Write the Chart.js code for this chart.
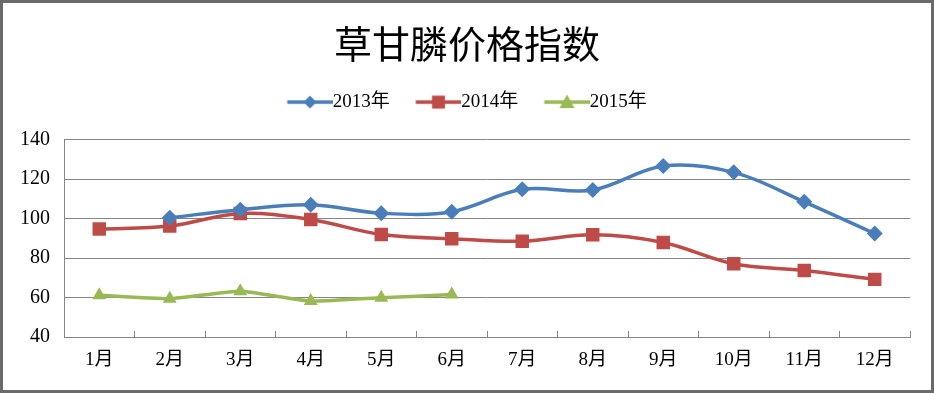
<!DOCTYPE html>
<html>
<head>
<meta charset="utf-8">
<script src="https://cdn.jsdelivr.net/npm/chart.js@4/dist/chart.umd.min.js"></script>
<style>
html,body{margin:0;padding:0;background:#fff;}
#wrap{width:934px;height:393px;box-sizing:border-box;border:3px solid #6a6a6a;background:#fff;position:relative;}
canvas{display:block;}
</style>
</head>
<body>
<div id="wrap"><canvas id="c" width="928" height="387"></canvas></div>
<script>
const titleText = '草甘膦价格指数';
const months = ['1月','2月','3月','4月','5月','6月','7月','8月','9月','10月','11月','12月'];
const seriesNames = ['2013年','2014年','2015年'];
const values2013 = [null, 100.4, 104.5, 107.0, 102.7, 103.5, 114.8, 114.5, 126.6, 123.4, 108.5, 92.4];
const values2014 = [94.7, 96.2, 102.6, 99.5, 91.9, 89.8, 88.5, 91.8, 87.9, 77.1, 73.7, 69.2];
const values2015 = [61.2, 59.4, 63.2, 58.2, 59.9, 61.5];
const yTicks = [40, 60, 80, 100, 120, 140];

const colors = ['#4A7EBB', '#BE4B48', '#98B954'];
const styles = ['rectRot', 'rect', 'triangle'];
const radii = [8, 9.5, 8];

const serif = '"Liberation Serif", "Times New Roman", "Noto Sans CJK SC", serif';

function legendIcon(i) {
  const boxW = 36, gap = 9.5;
  const W = Math.ceil(2 * (boxW / 2 + gap)), H = 20;
  const cv = document.createElement('canvas');
  cv.width = W; cv.height = H;
  const g = cv.getContext('2d');
  const x0 = W / 2 - boxW / 2, x1 = W;
  const cy = H / 2;
  g.strokeStyle = colors[i]; g.lineWidth = 3.5;
  g.beginPath(); g.moveTo(x0, cy); g.lineTo(x1, cy); g.stroke();
  const cx = (x0 + x1) / 2;
  g.fillStyle = colors[i];
  g.beginPath();
  if (i === 0) {
    const r = 6.5;
    g.moveTo(cx, cy - r); g.lineTo(cx + r, cy); g.lineTo(cx, cy + r); g.lineTo(cx - r, cy);
  } else if (i === 1) {
    const s = 6.5;
    g.rect(cx - s, cy - s, 2 * s, 2 * s);
  } else {
    const r = 7.5;
    g.moveTo(cx, cy - r); g.lineTo(cx + r, cy + r * 0.8); g.lineTo(cx - r, cy + r * 0.8);
  }
  g.closePath(); g.fill();
  return cv;
}
const icons = [legendIcon(0), legendIcon(1), legendIcon(2)];

function ds(label, data, i, tension) {
  return {
    label: label,
    data: data,
    borderColor: colors[i],
    backgroundColor: colors[i],
    borderWidth: 3.5,
    pointStyle: styles[i],
    pointRadius: radii[i],
    pointHoverRadius: radii[i],
    pointBorderWidth: 0,
    tension: tension,
    fill: false,
    yAxisID: 'y'
  };
}

const legendGap = {
  id: 'legendGap',
  beforeLayout(chart) {
    const lg = chart.legend;
    if (lg && !lg._gapPatched) {
      const orig = lg.fit;
      lg.fit = function() { orig.apply(this, arguments); this.height += 18; };
      lg._gapPatched = true;
    }
  }
};

new Chart(document.getElementById('c'), {
  type: 'line',
  data: {
    labels: months,
    datasets: [
      ds(seriesNames[0], values2013, 0, 0.35),
      ds(seriesNames[1], values2014, 1, 0.35),
      ds(seriesNames[2], values2015, 2, 0.15)
    ]
  },
  plugins: [legendGap],
  options: {
    responsive: false,
    animation: false,
    devicePixelRatio: 1,
    layout: { padding: 0 },
    plugins: {
      title: {
        display: true,
        text: titleText,
        color: '#000',
        font: { family: '"Noto Sans CJK SC", sans-serif', size: 38, weight: 'normal' },
        padding: { top: 18, bottom: 0 }
      },
      legend: {
        display: true,
        position: 'top',
        labels: {
          usePointStyle: true,
          pointStyleWidth: 36,
          color: '#000',
          font: { family: serif, size: 19 },
          padding: 26,
          generateLabels: function(chart) {
            return chart.data.datasets.map(function(d, i) {
              return {
                text: d.label,
                pointStyle: icons[i],
                fillStyle: colors[i],
                strokeStyle: colors[i],
                lineWidth: 0,
                hidden: false,
                datasetIndex: i,
                fontColor: '#000'
              };
            });
          }
        }
      },
      tooltip: { enabled: false }
    },
    scales: {
      x: {
        offset: true,
        grid: {
          offset: true,
          display: true,
          drawOnChartArea: false,
          drawTicks: true,
          tickLength: -6,
          color: '#868686',
          lineWidth: 1
        },
        border: { display: true, color: '#868686', width: 1 },
        ticks: {
          color: '#000',
          font: { family: serif, size: 19 },
          padding: 18,
          maxRotation: 0,
          autoSkip: false
        },
        afterFit: function(s) { s.height = 53; }
      },
      y: {
        min: 40,
        max: 140,
        afterBuildTicks: function(s) { s.ticks = yTicks.map(function(v){ return { value: v }; }); },
        grid: {
          color: '#868686',
          lineWidth: 1,
          drawTicks: false
        },
        border: { display: true, color: '#868686', width: 1 },
        ticks: {
          color: '#000',
          font: { family: serif, size: 20 },
          padding: 14
        },
        afterFit: function(s) { s.width = 61; }
      },
      yRight: {
        position: 'right',
        display: true,
        min: 40,
        max: 140,
        grid: { display: false, drawTicks: false },
        border: { display: false },
        ticks: { display: false },
        afterFit: function(s) { s.width = 21; }
      }
    }
  }
});
</script>
</body>
</html>
